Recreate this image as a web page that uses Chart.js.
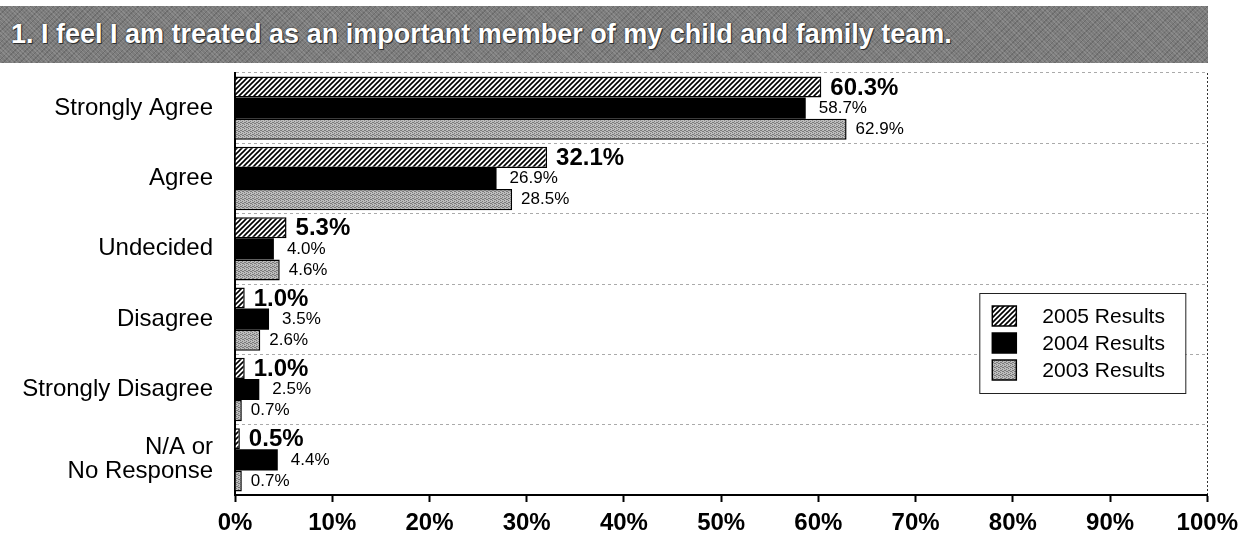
<!DOCTYPE html>
<html>
<head>
<meta charset="utf-8">
<script src="https://cdn.jsdelivr.net/npm/chart.js@4.4.1/dist/chart.umd.min.js"></script>
<style>
  html, body { margin: 0; padding: 0; background: #fff; }
  #wrap { position: relative; width: 1245px; height: 536px; overflow: hidden; }
  #titulo {
    position: absolute; left: 0; top: 6px; width: 1208px; height: 57px;
    background-color: #7c7c7c;
    background-image:
      repeating-linear-gradient(45deg, rgba(255,255,255,0.12) 0 1px, transparent 1px 3px),
      repeating-linear-gradient(-45deg, rgba(0,0,0,0.15) 0 1px, transparent 1px 4px);
    color: #fff; font-family: "Liberation Sans", Arial, sans-serif; font-weight: bold;
    font-size: 27px; line-height: 57px; padding-left: 11px; box-sizing: border-box;
    white-space: nowrap; text-shadow: 0 0 2px #222, 1px 1px 0 #333;
  }
  canvas { position: absolute; left: 0; top: 0; }
</style>
</head>
<body>
<div id="wrap">
  <canvas id="grafica" width="1245" height="536"></canvas>
  <div id="titulo">1. I feel I am treated as an important member of my child and family team.</div>
</div>
<script>
// Datos de la encuesta (porcentajes)
const categorias = ['Strongly Agree', 'Agree', 'Undecided', 'Disagree', 'Strongly Disagree', ['N/A or', 'No Response']];
const series = ['2005 Results', '2004 Results', '2003 Results'];
const valores2005 = [60.3, 32.1, 5.3, 1.0, 1.0, 0.5];
const valores2004 = [58.7, 26.9, 4.0, 3.5, 2.5, 4.4];
const valores2003 = [62.9, 28.5, 4.6, 2.6, 0.7, 0.7];
const ticksX = [0, 10, 20, 30, 40, 50, 60, 70, 80, 90, 100];

const FUENTE = '"Liberation Sans", Arial, sans-serif';

// Trama rayada para 2005
function tramaRayada() {
    const c = document.createElement('canvas');
    c.width = 5; c.height = 5;
    const g = c.getContext('2d');
    g.fillStyle = '#fff';
    g.fillRect(0, 0, 5, 5);
    g.strokeStyle = '#000';
    g.lineWidth = 1.6;
    g.beginPath();
    g.moveTo(-1, 6); g.lineTo(6, -1);
    g.moveTo(-4, 4); g.lineTo(4, -4);
    g.moveTo(1, 9); g.lineTo(9, 1);
    g.stroke();
    return g.createPattern(c, 'repeat');
}

// Trama punteada gris para 2003
function tramaGris() {
    const c = document.createElement('canvas');
    c.width = 4; c.height = 4;
    const g = c.getContext('2d');
    g.fillStyle = '#bdbdbd';
    g.fillRect(0, 0, 4, 4);
    g.fillStyle = '#7a7a7a';
    [[0,0],[2,1],[1,2],[3,3],[2,3],[0,2]].forEach(([x, y]) => g.fillRect(x, y, 1, 1));
    return g.createPattern(c, 'repeat');
}

const ctx = document.getElementById('grafica').getContext('2d');
const rellenos = [tramaRayada(), '#000', tramaGris()];

// Etiquetas de valor al final de cada barra
const etiquetasPlugin = {
    id: 'etiquetas',
    afterDatasetsDraw(chart) {
        const c = chart.ctx;
        c.save();
        c.textBaseline = 'middle';
        c.textAlign = 'left';
        c.fillStyle = '#000';
        chart.data.datasets.forEach((ds, i) => {
            const meta = chart.getDatasetMeta(i);
            c.font = i === 0 ? `bold 24px ${FUENTE}` : `17px ${FUENTE}`;
            const off = i === 1 ? 13 : 9;
            meta.data.forEach((bar, j) => {
                c.fillText(ds.data[j].toFixed(1) + '%', bar.x + off, bar.y + (i === 0 ? 1 : 0));
            });
        });
        c.restore();
    }
};

// Leyenda en recuadro dentro del área
const leyendaPlugin = {
    id: 'leyendaCaja',
    afterDraw(chart) {
        const c = chart.ctx;
        const a = chart.chartArea;
        const x0 = a.right - 228, y0 = 293, w = 206, h = 100;
        c.save();
        c.fillStyle = '#fff';
        c.fillRect(x0, y0, w, h);
        c.strokeStyle = '#222';
        c.lineWidth = 1;
        c.strokeRect(x0 + 0.5, y0 + 0.5, w, h);
        c.font = `21px ${FUENTE}`;
        c.textBaseline = 'middle';
        series.forEach((nombre, i) => {
            const yc = y0 + 23 + i * 27;
            c.fillStyle = rellenos[i];
            c.fillRect(x0 + 13, yc - 10, 24, 20);
            c.strokeStyle = '#000';
            c.lineWidth = 1.5;
            c.strokeRect(x0 + 13, yc - 10, 24, 20);
            c.fillStyle = '#000';
            c.fillText(nombre, x0 + 63, yc + 1);
        });
        c.restore();
    }
};

new Chart(ctx, {
    type: 'bar',
    data: {
        labels: categorias,
        datasets: [
            { label: series[0], data: valores2005, backgroundColor: rellenos[0], borderColor: '#000', borderWidth: 1.5 },
            { label: series[1], data: valores2004, backgroundColor: rellenos[1], borderColor: '#000', borderWidth: 0 },
            { label: series[2], data: valores2003, backgroundColor: rellenos[2], borderColor: '#000', borderWidth: 1.5 }
        ]
    },
    options: {
        indexAxis: 'y',
        responsive: false,
        animation: false,
        events: [],
        categoryPercentage: 0.9,
        barPercentage: 1.0,
        layout: { padding: { top: 73, right: 33, left: 0, bottom: 0 } },
        scales: {
            x: {
                min: 0,
                max: 100,
                afterBuildTicks: s => { s.ticks = ticksX.map(v => ({ value: v })); },
                afterFit: s => { s.height = 41; },
                ticks: {
                    callback: v => v + '%',
                    color: '#000',
                    font: { family: FUENTE, size: 24, weight: 'bold' },
                    padding: 7,
                    maxRotation: 0
                },
                grid: {
                    color: c => c.tick && c.tick.value === 100 ? '#333' : 'transparent',
                    lineWidth: 1,
                    tickColor: '#000',
                    tickLength: 7,
                    tickWidth: 2
                },
                border: { display: true, color: '#000', width: 2, dash: [2, 2] }
            },
            y: {
                afterFit: s => { s.width = 235; },
                ticks: {
                    color: '#000',
                    font: { family: FUENTE, size: 24, lineHeight: 1.0 },
                    padding: 22
                },
                grid: {
                    offset: true,
                    color: '#aaa',
                    lineWidth: 1,
                    drawTicks: false
                },
                border: { display: true, color: '#000', width: 2, dash: [3, 3] }
            }
        },
        plugins: {
            legend: { display: false },
            tooltip: { enabled: false }
        }
    },
    plugins: [etiquetasPlugin, leyendaPlugin]
});
</script>
</body>
</html>
